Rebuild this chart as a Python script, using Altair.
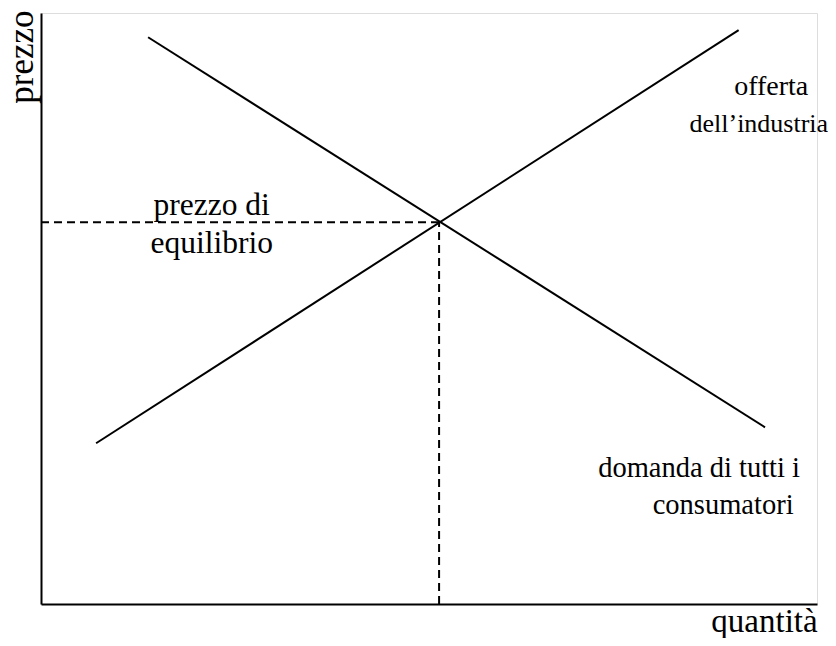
import altair as alt
import pandas as pd

# Curves (data units: quantity 0-100, price 0-100)
supply_q = [7.1, 89.9]
supply_p = [27.2, 97.1]
demand_q = [13.8, 93.3]
demand_p = [95.9, 29.9]

eq_q = 51.3
eq_p = 64.6

label_text = ["offerta", "dell\u2019industria", "prezzo di", "equilibrio",
              "domanda di tutti i", "consumatori"]
label_q = [94.1, 92.5, 22.0, 22.0, 84.8, 87.9]
label_p = [87.5, 81.2, 67.3, 60.9, 23.0, 16.8]
label_size = [28, 26, 31.5, 31.5, 28.5, 28.5]

FONT = "Liberation Serif"

xs = alt.Scale(domain=[0, 100], nice=False, zero=False)
ys = alt.Scale(domain=[0, 100], nice=False, zero=False)

curves = pd.DataFrame({
    "q": supply_q + demand_q,
    "p": supply_p + demand_p,
    "curve": ["offerta"] * 2 + ["domanda"] * 2,
})

x_axis = alt.Axis(title="quantità", grid=False, ticks=False, labels=False,
                  domainColor="black", domainWidth=2,
                  titleFont=FONT, titleFontSize=33, titleFontWeight="normal",
                  titleColor="black", titleX=723, titleY=27,
                  titleAlign="center", titleBaseline="alphabetic")
y_axis = alt.Axis(title="prezzo", grid=False, ticks=False, labels=False,
                  domainColor="black", domainWidth=2,
                  titleFont=FONT, titleFontSize=35, titleFontWeight="normal",
                  titleColor="black", titleX=-9, titleY=-3, titleAngle=270,
                  titleAlign="right", titleBaseline="alphabetic")

lines = alt.Chart(curves).mark_line(color="black", strokeWidth=2).encode(
    x=alt.X("q:Q", scale=xs, axis=x_axis),
    y=alt.Y("p:Q", scale=ys, axis=y_axis),
    detail="curve:N",
)

eq = pd.DataFrame({"q0": [0], "p0": [0], "q": [eq_q], "p": [eq_p]})

hrule = alt.Chart(eq).mark_rule(color="black", strokeWidth=2, strokeDash=[8, 5]).encode(
    x=alt.X("q0:Q", scale=xs), x2="q:Q", y=alt.Y("p:Q", scale=ys)
)
vrule = alt.Chart(eq).mark_rule(color="black", strokeWidth=2, strokeDash=[8, 5]).encode(
    x=alt.X("q:Q", scale=xs), y=alt.Y("p0:Q", scale=ys), y2="p:Q"
)

labels = pd.DataFrame({"q": label_q, "p": label_p, "t": label_text, "s": label_size})
texts = alt.Chart(labels).mark_text(font=FONT, color="black",
                                    align="center", baseline="middle").encode(
    x=alt.X("q:Q", scale=xs), y=alt.Y("p:Q", scale=ys), text="t:N",
    size=alt.Size("s:Q", scale=None, legend=None),
)

chart = alt.layer(hrule, vrule, lines, texts).properties(
    width=776, height=591,
    autosize=alt.AutoSizeParams(type="none"),
    padding={"left": 33, "top": 5, "right": 11, "bottom": 34},
).configure_view(stroke=None).configure(background="white")

chart.save("out.html", embed_options={"renderer": "svg", "actions": False})
